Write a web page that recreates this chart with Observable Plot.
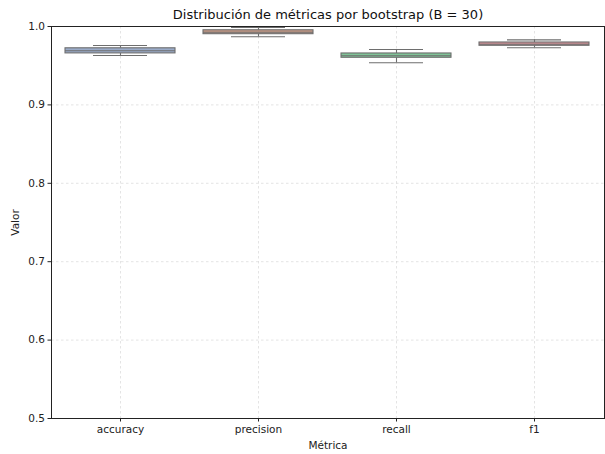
<!DOCTYPE html>
<html>
<head>
<meta charset="utf-8">
<script src="https://cdn.jsdelivr.net/npm/d3@7"></script>
<script src="https://cdn.jsdelivr.net/npm/@observablehq/plot@0.6"></script>
<style>
  body { margin: 0; background: #fff; }
  #chart svg { display: block; }
</style>
</head>
<body>
<div id="chart"></div>
<script>
const title = "Distribución de métricas por bootstrap (B = 30)";
const metrics = ["accuracy", "precision", "recall", "f1"];
const whiskerLow = [0.963, 0.9869, 0.9537, 0.9728];
const q1 = [0.9657, 0.9902, 0.9601, 0.9754];
const median = [0.9690, 0.9927, 0.9626, 0.9774];
const q3 = [0.9722, 0.9952, 0.9656, 0.9796];
const whiskerHigh = [0.9758, 0.9987, 0.9707, 0.9830];
const colors = ["#9aabc9", "#c69a86", "#7fc497", "#cf9096"];
const yTicks = [0.5, 0.6, 0.7, 0.8, 0.9, 1.0];

const data = metrics.map((m, i) => ({
  metric: m, lo: whiskerLow[i], q1: q1[i], med: median[i], q3: q3[i], hi: whiskerHigh[i]
}));

const font = "DejaVu Sans, sans-serif";
const lineColor = "#6e6e6e";

const chart = Plot.plot({
  width: 605,
  height: 454,
  marginLeft: 51,
  marginRight: 1,
  marginTop: 26,
  marginBottom: 36,
  style: { fontFamily: font, fontSize: "10.5px", color: "#222", background: "#fff" },
  x: { domain: metrics, paddingInner: 0.2, paddingOuter: 0.1, label: null },
  y: { domain: [0.5, 1.0], label: null },
  color: { domain: metrics, range: colors },
  marks: [
    Plot.gridY(yTicks, { stroke: "#c8c8c8", strokeOpacity: 0.7, strokeDasharray: "2.5,2.5", strokeWidth: 0.7 }),
    Plot.gridX(metrics, { stroke: "#c8c8c8", strokeOpacity: 0.7, strokeDasharray: "2.5,2.5", strokeWidth: 0.7 }),
    Plot.axisY(yTicks, { tickSize: 3.5, tickPadding: 3, tickFormat: d3.format(".1f"), fontSize: 10.5,
      label: "Valor", labelAnchor: "center", labelArrow: "none", labelOffset: 40 }),
    Plot.axisX(metrics, { tickSize: 3.5, tickPadding: 4, fontSize: 10.5,
      label: "Métrica", labelAnchor: "center", labelArrow: "none", labelOffset: 30 }),
    Plot.ruleX(data, { x: "metric", y1: "lo", y2: "q1", stroke: lineColor, strokeWidth: 1.1 }),
    Plot.ruleX(data, { x: "metric", y1: "q3", y2: "hi", stroke: lineColor, strokeWidth: 1.1 }),
    Plot.tickY(data, { x: "metric", y: "lo", stroke: lineColor, strokeWidth: 1.1, insetLeft: 28, insetRight: 28 }),
    Plot.tickY(data, { x: "metric", y: "hi", stroke: lineColor, strokeWidth: 1.1, insetLeft: 28, insetRight: 28 }),
    Plot.barY(data, { x: "metric", y1: "q1", y2: "q3", fill: "metric", stroke: lineColor, strokeWidth: 1.1 }),
    Plot.tickY(data, { x: "metric", y: "med", stroke: lineColor, strokeWidth: 1.1 }),
    Plot.frame({ stroke: "#222", strokeWidth: 1 }),
    Plot.text([title], { frameAnchor: "top", lineAnchor: "middle", dy: -12, fontSize: 13, fill: "#111", fontFamily: font })
  ]
});
document.getElementById("chart").append(chart);
</script>
</body>
</html>
